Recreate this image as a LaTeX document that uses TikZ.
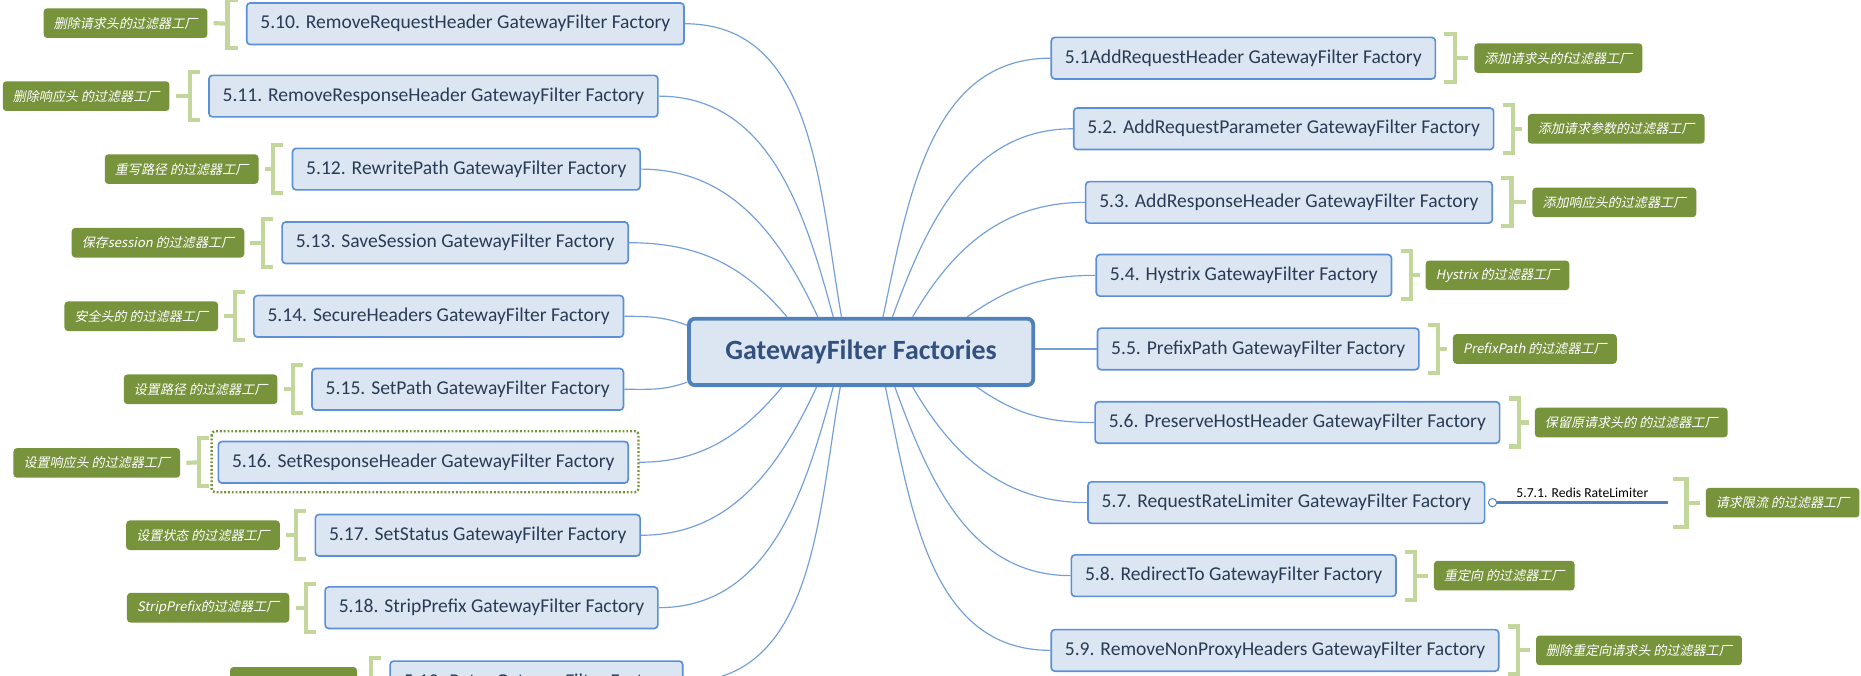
\documentclass[tikz,border=0pt]{standalone}
\usepackage{fontspec}
\setmainfont{Carlito}
\newfontfamily\cjk[FakeSlant=0.2]{Noto Sans CJK SC}
\usetikzlibrary{calc}
\definecolor{boxfill}{HTML}{DCE6F2}
\definecolor{boxdraw}{HTML}{5B8FD6}
\definecolor{boxtext}{HTML}{2A3B55}
\definecolor{centerdraw}{HTML}{4F81BD}
\definecolor{centertext}{HTML}{33507F}
\definecolor{conncol}{HTML}{74A0DA}
\definecolor{labfill}{HTML}{77933C}
\definecolor{brkcol}{HTML}{C3D69B}
\definecolor{subcol}{HTML}{4F81BD}
\tikzset{
 topic/.style={draw=boxdraw, line width=1.4pt, fill=boxfill, rounded corners=3pt, minimum height=35pt, inner xsep=11.5pt, inner ysep=0pt, font=\fontsize{16.5}{18}\selectfont, text=boxtext},
 central/.style={draw=centerdraw, line width=3.2pt, fill=boxfill, rounded corners=5pt, minimum width=290pt, minimum height=56pt, font=\fontsize{23.5}{26}\selectfont\bfseries, text=centertext},
 note/.style={fill=labfill, rounded corners=3pt, minimum height=25pt, inner xsep=8.5pt, inner ysep=0pt, font=\cjk\fontsize{11}{12}\selectfont, text=white},
 conn/.style={draw=conncol, line width=1pt},
 brk/.style={draw=brkcol, line width=3.5pt, line join=miter},
 framedot/.style={draw=labfill, line width=2pt, dash pattern=on 1.6pt off 1.6pt, rounded corners=3pt},
 subl/.style={draw=subcol, line width=2.5pt},
 knob/.style={circle, draw=subcol, fill=white, line width=0.8pt, inner sep=0pt, minimum size=7pt},
 subtext/.style={font=\fontsize{11.5}{13}\selectfont, text=black, inner sep=1pt}
}
\newcommand{\brkL}[2]{%
  \draw[brk] ($(#1.north west)+(-7,2)$) -- ($(#1.north west)+(-15.5,2)$) -- ($(#1.south west)+(-15.5,-2)$) -- ($(#1.south west)+(-7,-2)$);
  \draw[brk] ($(#1.west)+(-15.5,0)$) -- ($(#2.east)+(5,0)$);
}
\newcommand{\brkR}[2]{%
  \draw[brk] ($(#1.north east)+(7,2)$) -- ($(#1.north east)+(15.5,2)$) -- ($(#1.south east)+(15.5,-2)$) -- ($(#1.south east)+(7,-2)$);
  \draw[brk] ($(#1.east)+(15.5,0)$) -- ($(#2.west)+(-5,0)$);
}
\begin{document}
\begin{tikzpicture}[x=1pt,y=1pt]
\useasboundingbox (0,0) rectangle (1568,-569);

% left topics
\node[topic, anchor=east] (n10) at (577,-20) {5.10. RemoveRequestHeader GatewayFilter Factory};
\node[topic, anchor=east] (n11) at (555,-81) {5.11. RemoveResponseHeader GatewayFilter Factory};
\node[topic, anchor=east] (n12) at (540,-142.5) {5.12. RewritePath GatewayFilter Factory};
\node[topic, anchor=east] (n13) at (530,-204.5) {5.13. SaveSession GatewayFilter Factory};
\node[topic, anchor=east] (n14) at (526,-266.5) {5.14. SecureHeaders GatewayFilter Factory};
\node[topic, anchor=east] (n15) at (526,-328) {5.15. SetPath GatewayFilter Factory};
\node[topic, anchor=east] (n16) at (530,-389.5) {5.16. SetResponseHeader GatewayFilter Factory};
\node[topic, anchor=east] (n17) at (540,-451) {5.17. SetStatus GatewayFilter Factory};
\node[topic, anchor=east] (n18) at (555,-512) {5.18. StripPrefix GatewayFilter Factory};
\node[topic, anchor=east] (n19) at (576,-574.5) {5.19. Retry GatewayFilter Factory};

% left notes
\node[note, anchor=east] (l10) at (175,-19.5) {删除请求头的过滤器工厂};
\node[note, anchor=east] (l11) at (143,-81) {删除响应头 的过滤器工厂};
\node[note, anchor=east] (l12) at (218,-142.5) {重写路径 的过滤器工厂};
\node[note, anchor=east] (l13) at (206,-204.5) {保存session 的过滤器工厂};
\node[note, anchor=east] (l14) at (184,-266.5) {安全头的 的过滤器工厂};
\node[note, anchor=east] (l15) at (234,-328) {设置路径 的过滤器工厂};
\node[note, anchor=east] (l16) at (152,-390) {设置响应头 的过滤器工厂};
\node[note, anchor=east] (l17) at (236,-451) {设置状态 的过滤器工厂};
\node[note, anchor=east] (l18) at (244,-512) {StripPrefix的过滤器工厂};
\node[note, anchor=east, minimum width=107pt] (l19) at (301,-574.5) {};

% right topics
\node[topic, anchor=west] (n1) at (885,-49) {5.1AddRequestHeader GatewayFilter Factory};
\node[topic, anchor=west] (n2) at (904,-108.5) {5.2. AddRequestParameter GatewayFilter Factory};
\node[topic, anchor=west] (n3) at (914,-170.5) {5.3. AddResponseHeader GatewayFilter Factory};
\node[topic, anchor=west] (n4) at (923,-232) {5.4. Hystrix GatewayFilter Factory};
\node[topic, anchor=west] (n5) at (924,-294) {5.5. PrefixPath GatewayFilter Factory};
\node[topic, anchor=west] (n6) at (922,-356) {5.6. PreserveHostHeader GatewayFilter Factory};
\node[topic, anchor=west] (n7) at (916,-423.5) {5.7. RequestRateLimiter GatewayFilter Factory};
\node[topic, anchor=west] (n8) at (902,-485) {5.8. RedirectTo GatewayFilter Factory};
\node[topic, anchor=west] (n9) at (885,-548) {5.9. RemoveNonProxyHeaders GatewayFilter Factory};

% right notes
\node[note, anchor=west] (l1) at (1242,-49) {添加请求头的f过滤器工厂};
\node[note, anchor=west] (l2) at (1287,-108.5) {添加请求参数的过滤器工厂};
\node[note, anchor=west] (l3) at (1291,-170.5) {添加响应头的过滤器工厂};
\node[note, anchor=west] (l4) at (1201,-232) {Hystrix 的过滤器工厂};
\node[note, anchor=west] (l5) at (1224,-294) {PrefixPath 的过滤器工厂};
\node[note, anchor=west] (l6) at (1293,-356) {保留原请求头的 的过滤器工厂};
\node[note, anchor=west] (l7) at (1437,-423.5) {请求限流 的过滤器工厂};
\node[note, anchor=west] (l8) at (1208,-485) {重定向 的过滤器工厂};
\node[note, anchor=west] (l9) at (1294,-548) {删除重定向请求头 的过滤器工厂};

% central topic
\node[central] (c) at (725.5,-296.5) {GatewayFilter Factories};

% frame around 5.16
\draw[framedot] ($(n16.north west)+(-5,8)$) rectangle ($(n16.south east)+(8,-7)$);
\coordinate (f16) at ($(n16.east)+(8,0)$);

% brackets
\brkL{n10}{l10}
\brkL{n11}{l11}
\brkL{n12}{l12}
\brkL{n13}{l13}
\brkL{n14}{l14}
\brkL{n15}{l15}
\brkL{n16}{l16}
\brkL{n17}{l17}
\brkL{n18}{l18}
\brkL{n19}{l19}
\brkR{n1}{l1}
\brkR{n2}{l2}
\brkR{n3}{l3}
\brkR{n4}{l4}
\brkR{n5}{l5}
\brkR{n6}{l6}
\brkR{n8}{l8}
\brkR{n9}{l9}

% subtopic 5.7.1
\node[knob] (k7) at ($(n7.east)+(6,0)$) {};
\coordinate (e7) at (1405,-423.5);
\draw[subl] (k7.east) -- (e7);
\node[subtext, anchor=south] (s71) at ($(k7.east)!0.5!(e7)+(0,3)$) {5.7.1. Redis RateLimiter};
\draw[brk] ($(e7|-n7.north)+(5,2)$) -- ($(e7|-n7.north)+(16,2)$) -- ($(e7|-n7.south)+(16,-2)$) -- ($(e7|-n7.south)+(5,-2)$);
\draw[brk] ($(e7)+(16,0)$) -- ($(l7.west)+(-5,0)$);

% connectors, left
\draw[conn] ([xshift=-16.5pt]c.north) to[out=100,in=0] (n10.east);
\draw[conn] ([xshift=-23.5pt]c.north) to[out=105,in=0] (n11.east);
\draw[conn] ([xshift=-36.5pt]c.north) to[out=115,in=0] (n12.east);
\draw[conn] ([xshift=-62.5pt]c.north) to[out=130,in=0] (n13.east);
\draw[conn] (n14.east) to[out=0,in=160] ([yshift=22.5pt]c.west);
\draw[conn] (n15.east) to[out=0,in=200] ([yshift=-25.5pt]c.west);
\draw[conn] ([xshift=-66.5pt]c.south) to[out=-130,in=0] (f16);
\draw[conn] ([xshift=-37.5pt]c.south) to[out=-115,in=0] (n17.east);
\draw[conn] ([xshift=-23.5pt]c.south) to[out=-105,in=0] (n18.east);
\draw[conn] ([xshift=-17.5pt]c.south) to[out=-100,in=0] (n19.east);
% connectors, right
\draw[conn] ([xshift=18.5pt]c.north) to[out=78,in=180] (n1.west);
\draw[conn] ([xshift=26.5pt]c.north) to[out=70,in=180] (n2.west);
\draw[conn] ([xshift=43.5pt]c.north) to[out=60,in=180] (n3.west);
\draw[conn] ([xshift=89.5pt]c.north) to[out=35,in=180] (n4.west);
\draw[conn] (c.east |- n5.west) -- (n5.west);
\draw[conn] ([xshift=97.5pt]c.south) to[out=-35,in=180] (n6.west);
\draw[conn] ([xshift=43.5pt]c.south) to[out=-60,in=180] (n7.west);
\draw[conn] ([xshift=28.5pt]c.south) to[out=-70,in=180] (n8.west);
\draw[conn] ([xshift=20.5pt]c.south) to[out=-78,in=180] (n9.west);
\end{tikzpicture}
\end{document}
